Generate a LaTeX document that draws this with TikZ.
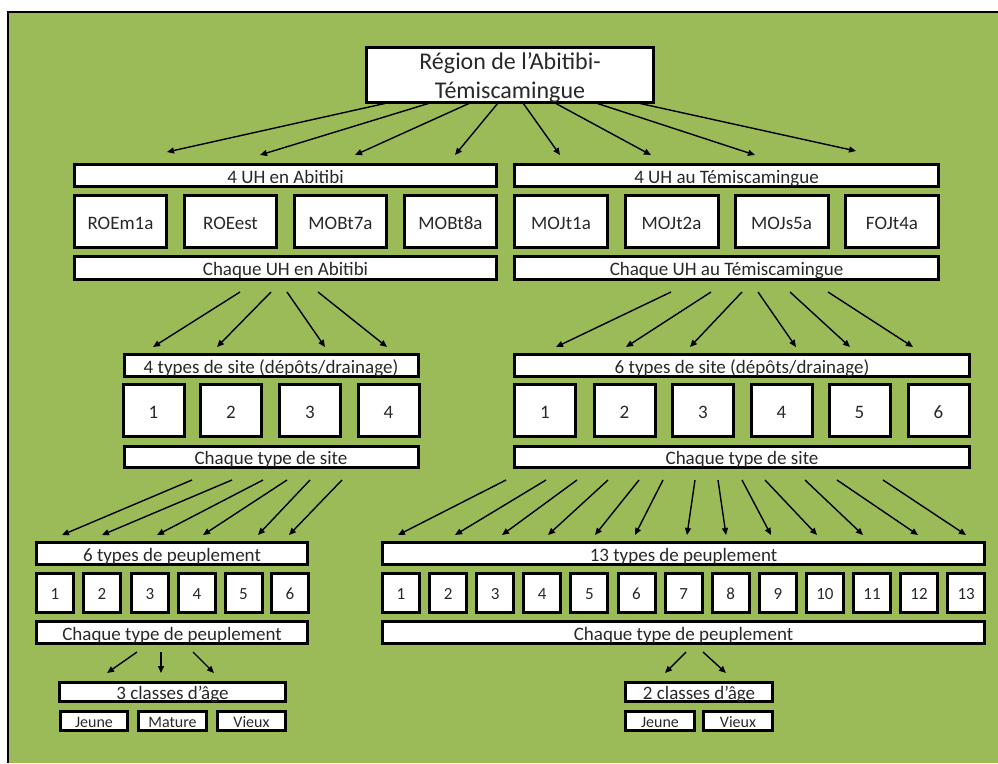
\documentclass[tikz,border=0pt]{standalone}
\usepackage{fontspec}
\setmainfont{Carlito}
\usetikzlibrary{arrows.meta,calc}
\definecolor{bggreen}{RGB}{155,187,89}
\definecolor{txt}{RGB}{40,40,40}
\tikzset{
  box/.style={draw=black, line width=3pt, fill=white, inner sep=0pt, text=txt,
    font=\fontsize{19}{22}\selectfont, text height=15pt, text depth=0pt, anchor=center},
  smallbox/.style={box, font=\fontsize{16}{19}\selectfont, text height=12.5pt},
  numbox/.style={box, font=\fontsize{17}{20}\selectfont, text height=13.5pt},
  arr/.style={draw=black, line width=1.4pt, -{Triangle[length=7pt,width=6pt]}},
}
\newcommand\bx[7][box]{\node[#1, minimum width=#5pt, minimum height=#6pt] (#2) at (#3,#4) {#7};}
\begin{document}
\begin{tikzpicture}[x=1pt,y=-1pt]
\useasboundingbox (0,0) rectangle (998,763);
\fill[white] (0,0) rectangle (998,763);
\fill[bggreen] (8,12) rectangle (998,763);
\draw[line width=2pt] (8,763) -- (8,12) -- (998,12);

% top
\node[box, minimum width=287pt, minimum height=51pt, align=center,
  font=\fontsize{24}{29}\selectfont, text height=, text depth=] (top) at (510,75)
  {\rule{0pt}{22pt}Région de l’Abitibi-\\Témiscamingue};

% level 1
\bx{uha}{285.5}{175.5}{422}{22}{4 UH en Abitibi}
\bx{uht}{726.5}{175.5}{424}{22}{4 UH au Témiscamingue}
\bx{a1}{120.5}{221.5}{92}{52}{ROEm1a}
\bx{a2}{230.5}{221.5}{92}{52}{ROEest}
\bx{a3}{340.5}{221.5}{92}{52}{MOBt7a}
\bx{a4}{450.5}{221.5}{92}{52}{MOBt8a}
\bx{t1}{561}{221.5}{93}{52}{MOJt1a}
\bx{t2}{671.5}{221.5}{93}{52}{MOJt2a}
\bx{t3}{781.5}{221.5}{93}{52}{MOJs5a}
\bx{t4}{892}{221.5}{93}{52}{FOJt4a}
\bx{chuha}{285.5}{268}{422}{23}{Chaque UH en Abitibi}
\bx{chuht}{726.5}{268}{424}{23}{Chaque UH au Témiscamingue}

% level 2
\bx{sitea}{271}{365.5}{294}{22}{4 types de site (dépôts/drainage)}
\foreach \cx [count=\i] in {153.5,231,310,388.5}
  {\bx{sa\i}{\cx}{410.5}{61}{52}{\i}}
\bx{chsitea}{271}{457}{294}{21}{Chaque type de site}
\bx{sitet}{742}{365.5}{455}{22}{6 types de site (dépôts/drainage)}
\foreach \cx [count=\i] in {545,624.5,703,781.5,859.5,938.5}
  {\bx{st\i}{\cx}{410.5}{61}{52}{\i}}
\bx{chsitet}{742}{457}{455}{21}{Chaque type de site}

% level 3
\bx{peupa}{172}{553.5}{271}{22}{6 types de peuplement}
\foreach \cx [count=\i] in {55,102,150,197,243.5,290}
  {\bx[numbox]{pa\i}{\cx}{593}{37}{39}{\i}}
\bx{chpeupa}{172}{632.5}{271}{22}{Chaque type de peuplement}
\bx{peupt}{683.5}{553.5}{602}{22}{13 types de peuplement}
\foreach \i in {1,...,13}
  {\pgfmathsetmacro\cx{401+47.1*(\i-1)}\bx[numbox]{pt\i}{\cx}{593}{37}{39}{\i}}
\bx{chpeupt}{683.5}{632.5}{602}{22}{Chaque type de peuplement}

% level 4
\bx{agea}{172.5}{692}{226}{19}{3 classes d’âge}
\bx[smallbox]{ja}{94}{721}{67}{19}{Jeune}
\bx[smallbox]{ma}{172.5}{721}{68}{19}{Mature}
\bx[smallbox]{va}{251.5}{721}{68}{19}{Vieux}
\bx{aget}{699}{692}{147}{19}{2 classes d’âge}
\bx[smallbox]{jt}{660}{721}{69}{19}{Jeune}
\bx[smallbox]{vt}{738}{721}{69}{19}{Vieux}

% arrows: top -> level 1
\foreach \sx/\ex/\ey [count=\i] in {387/167/152, 430/260/155, 470/355/155, 498/455/155,
    523/560/155, 555/651/155, 596/755/155, 638/856/151}
  {\coordinate (ts\i) at (\sx,103); \coordinate (te\i) at (\ex,\ey);
   \draw[arr] (ts\i) -- (te\i);}
% Chaque UH -> sites
\foreach \sx/\ex [count=\i] in {240/153, 271/217, 287/325, 318/387}
  {\coordinate (us\i) at (\sx,292); \coordinate (ue\i) at (\ex,347);
   \draw[arr] (us\i) -- (ue\i);}
\foreach \sx/\ex [count=\i] in {671/556, 711/626, 742/690, 758/796, 790/850, 828/913}
  {\coordinate (vs\i) at (\sx,292); \coordinate (ve\i) at (\ex,347);
   \draw[arr] (vs\i) -- (ve\i);}
% Chaque type de site -> peuplement
\foreach \sx/\ex [count=\i] in {192/62, 232/102, 263/157, 287/203, 310/258, 342/289}
  {\coordinate (ws\i) at (\sx,480); \coordinate (we\i) at (\ex,535);
   \draw[arr] (ws\i) -- (we\i);}
\foreach \sx/\ex [count=\i] in {506/398, 546/455, 577/502, 608/548, 639/595, 663/635,
    695/687, 718/726, 742/771, 765/817, 805/863, 837/918, 883/966}
  {\coordinate (xs\i) at (\sx,480); \coordinate (xe\i) at (\ex,535);
   \draw[arr] (xs\i) -- (xe\i);}
% Chaque type de peuplement -> classes d'age
\foreach \sx/\ex [count=\i] in {137/107, 161/161, 193/214}
  {\coordinate (ys\i) at (\sx,652); \coordinate (ye\i) at (\ex,673);
   \draw[arr] (ys\i) -- (ye\i);}
\foreach \sx/\ex [count=\i] in {686/665, 703/726}
  {\coordinate (zs\i) at (\sx,652); \coordinate (ze\i) at (\ex,673);
   \draw[arr] (zs\i) -- (ze\i);}
\end{tikzpicture}
\end{document}
